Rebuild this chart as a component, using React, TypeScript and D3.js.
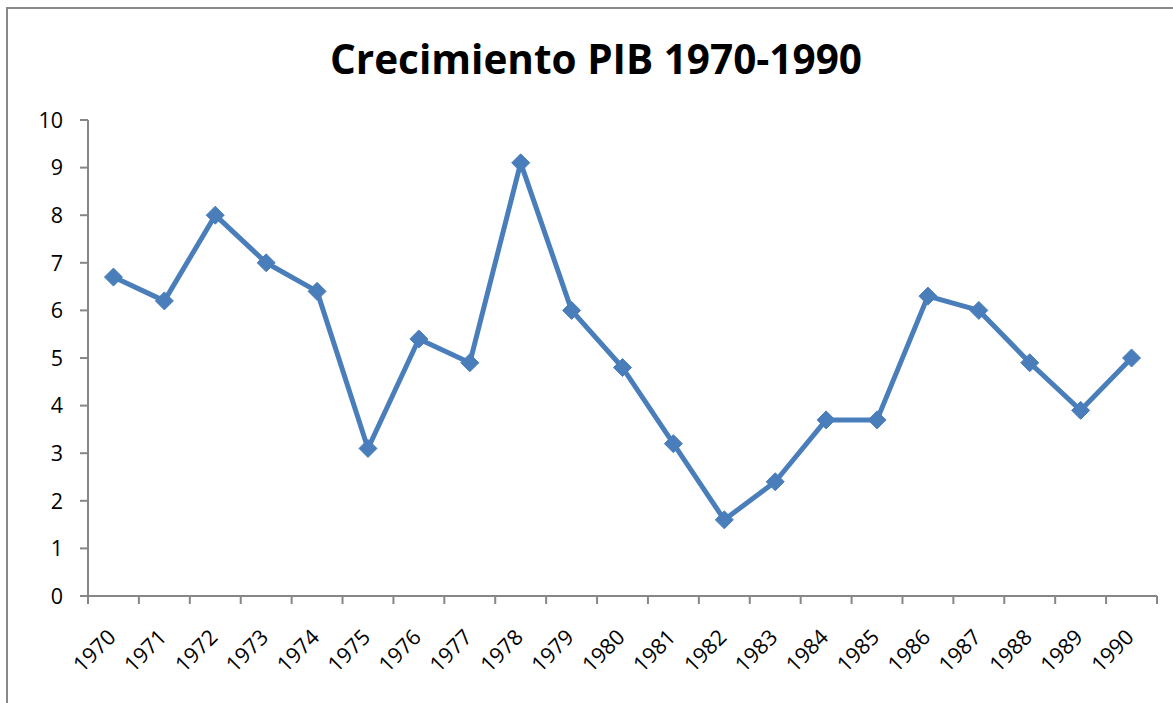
import React from "react";
import * as d3 from "d3";

const years = ["1970","1971","1972","1973","1974","1975","1976","1977","1978","1979","1980","1981","1982","1983","1984","1985","1986","1987","1988","1989","1990"];
const growth = [6.7,6.2,8.0,7.0,6.4,3.1,5.4,4.9,9.1,6.0,4.8,3.2,1.6,2.4,3.7,3.7,6.3,6.0,4.9,3.9,5.0];
const yTicks = [0,1,2,3,4,5,6,7,8,9,10];
const title = "Crecimiento PIB 1970-1990";

export default function App() {
  const W = 1173, H = 703;
  const left = 88, right = 1157, top = 120, bottom = 596;
  const x = d3.scaleBand<string>().domain(years).range([left, right]);
  const y = d3.scaleLinear().domain([0, 10]).range([bottom, top]);
  const line = d3.line<number>().x((_, i) => (x(years[i]) as number) + x.bandwidth() / 2).y(d => y(d));
  const font = "'Open Sans', 'Noto Sans', sans-serif";
  const axisColor = "#868686";
  const boundaries = years.map(yr => x(yr) as number).concat([right]);
  return (
    <svg width={W} height={H} style={{ position: "absolute", left: 0, top: 0, background: "#fff" }}>
      <rect x={7} y={8} width={W + 20} height={H + 20} fill="#fff" stroke="#898989" strokeWidth={2} />
      <text x={596} y={74} textAnchor="middle" fontFamily={font} fontWeight="bold" fontSize={40.5} fill="#000">{title}</text>
      {/* y axis */}
      <line x1={left} x2={left} y1={top} y2={bottom} stroke={axisColor} strokeWidth={2} />
      {yTicks.map(t => (
        <g key={t}>
          <line x1={left - 8} x2={left} y1={y(t)} y2={y(t)} stroke={axisColor} strokeWidth={2} />
          <text x={63} y={y(t)} dy="0.36em" textAnchor="end" fontFamily={font} fontSize={21.5} fill="#000">{t}</text>
        </g>
      ))}
      {/* x axis */}
      <line x1={left} x2={right} y1={bottom} y2={bottom} stroke={axisColor} strokeWidth={2} />
      {boundaries.map((b, i) => (
        <line key={i} x1={b} x2={b} y1={bottom} y2={bottom + 8} stroke={axisColor} strokeWidth={2} />
      ))}
      {years.map(yr => {
        const cx = (x(yr) as number) + x.bandwidth() / 2;
        return (
          <text key={yr} transform={`translate(${cx - 7},${628}) rotate(-45)`} textAnchor="end" dy="0.7em" fontFamily={font} fontSize={21.5} fill="#000">{yr}</text>
        );
      })}
      <path d={line(growth) as string} fill="none" stroke="#4A7EBB" strokeWidth={5} strokeLinejoin="round" />
      {growth.map((v, i) => {
        const cx = (x(years[i]) as number) + x.bandwidth() / 2;
        const cy = y(v);
        const r = 9;
        return (
          <path key={i} d={`M${cx},${cy - r}L${cx + r},${cy}L${cx},${cy + r}L${cx - r},${cy}Z`} fill="#4A7EBB" stroke="#4A7EBB" strokeWidth={1} />
        );
      })}
    </svg>
  );
}
